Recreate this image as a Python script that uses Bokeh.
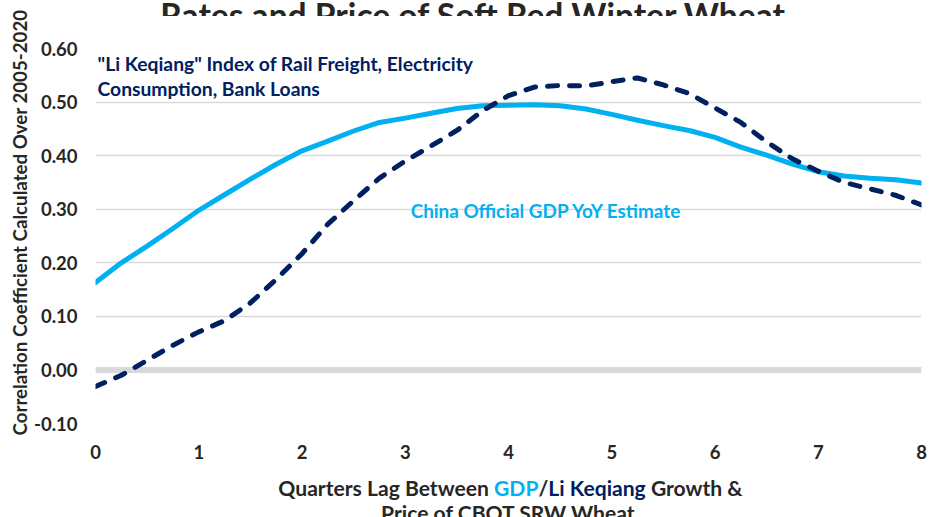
import glob
import os
import subprocess

from bokeh.plotting import figure
from bokeh.layouts import row, column
from bokeh.models import Label, Span, FixedTicker, NumeralTickFormatter, Range1d
from bokeh.embed import file_html
from bokeh.resources import INLINE

# ---------------- data ----------------
lag_quarters = [0, 0.25, 0.5, 0.75, 1, 1.25, 1.5, 1.75, 2, 2.25, 2.5, 2.75, 3,
                3.25, 3.5, 3.75, 4, 4.25, 4.5, 4.75, 5, 5.25, 5.5, 5.75, 6,
                6.25, 6.5, 6.75, 7, 7.25, 7.5, 7.75, 8]
gdp_corr = [0.163, 0.200, 0.231, 0.264, 0.298, 0.327, 0.356, 0.384, 0.409,
            0.427, 0.446, 0.462, 0.470, 0.479, 0.488, 0.493, 0.494, 0.495,
            0.493, 0.487, 0.477, 0.466, 0.456, 0.447, 0.434, 0.416, 0.401,
            0.384, 0.370, 0.362, 0.358, 0.355, 0.349]
likeqiang_corr = [-0.031, -0.010, 0.018, 0.046, 0.071, 0.092, 0.125, 0.169,
                  0.217, 0.272, 0.316, 0.358, 0.390, 0.418, 0.447, 0.484,
                  0.512, 0.528, 0.531, 0.530, 0.538, 0.545, 0.532, 0.516,
                  0.489, 0.462, 0.426, 0.394, 0.371, 0.350, 0.338, 0.326,
                  0.308]
x_ticks = [0, 1, 2, 3, 4, 5, 6, 7, 8]
y_ticks = [-0.1, 0.0, 0.1, 0.2, 0.3, 0.4, 0.5, 0.6]

title_text = "Rates and Price of Soft Red Winter Wheat"
y_label_text = "Correlation Coefficient Calculated Over 2005-2020"
lk_note = ['"Li Keqiang" Index of Rail Freight, Electricity',
           "Consumption, Bank Loans"]
gdp_note = "China Official GDP YoY Estimate"
x_label_line1 = [("Quarters Lag Between ", "#262626"), ("GDP", "#00B0F0"),
                 ("/", "#262626"), ("Li Keqiang", "#002060"),
                 (" Growth &", "#262626")]
x_label_line2 = "Price of CBOT SRW Wheat"

# ---------------- styling / layout ----------------
FONT = "Lato"
DARK = "#262626"
GDP_C = "#00B0F0"
LK_C = "#002060"
GRID = "#D9D9D9"

PAGE_W, PAGE_H = 929, 517
LEFT_W = 31                      # strip holding the rotated y-axis title
RIGHT_W = PAGE_W - LEFT_W
TITLE_H = 16                     # strip holding the (clipped) chart title
MAIN_BOTTOM = 466                # page y where the main figure ends
MAIN_H = MAIN_BOTTOM - TITLE_H
XL_H = PAGE_H - MAIN_BOTTOM      # strip holding the x-axis title

# plot frame in page pixels
FR_L, FR_R, FR_T, FR_B = 95, 921, 48, 423
X0, X1 = 0, 8
Y0, Y1 = -0.1, 0.6


def fx(px):   # page x -> data x (main plot)
    return X0 + (px - FR_L) / (FR_R - FR_L) * (X1 - X0)


def fy(py):   # page y -> data y (main plot)
    return Y1 - (py - FR_T) / (FR_B - FR_T) * (Y1 - Y0)


def _font_path():
    pats = ["Lato-Bold.ttf", "Lato-Bold.otf"]
    roots = ["/usr/share/fonts", "/usr/local/share/fonts",
             os.path.expanduser("~/.fonts"),
             os.path.expanduser("~/.local/share/fonts")]
    for pat in pats:
        for root in roots:
            hits = glob.glob(os.path.join(root, "**", pat), recursive=True)
            if hits:
                return hits[0]
    try:
        out = subprocess.run(["fc-match", "-f", "%{file}", "Lato:bold"],
                             capture_output=True, text=True, timeout=5).stdout.strip()
        if out and "lato" in out.lower():
            return out
    except Exception:
        pass
    return None


FONT_PATH = _font_path()
try:
    from PIL import ImageFont
    _F100 = ImageFont.truetype(FONT_PATH, 100) if FONT_PATH else None
except Exception:
    _F100 = None


def text_w(txt, size):
    if _F100 is not None:
        return _F100.getlength(txt) * size / 100.0
    return 0.42 * size * len(txt)


def fit(txt, target, default):
    if _F100 is not None:
        return round(target * 100.0 / _F100.getlength(txt), 1)
    return default


title_fs = fit(title_text, 625, 34)
ylab_fs = fit(y_label_text, 425, 20)
lk_fs = fit(lk_note[0], 376, 19)
gdp_fs = fit(gdp_note, 270, 20)
xl_fs = fit("".join(s for s, _ in x_label_line1), 464, 21)
tick_fs = 18.5


def make_label(x, y, text, size, color, align="left", baseline="middle",
               angle=0.0):
    return Label(x=x, y=y, text=text, text_font=FONT, text_font_style="bold",
                 text_font_size=f"{size}px", text_color=color,
                 text_align=align, text_baseline=baseline, angle=angle)


def text_strip(w, h, xr):
    """A bare figure; x in page pixels (frame aligned with the main plot), y down."""
    f = figure(width=w, height=h, output_backend="svg", toolbar_location=None,
               x_range=xr, y_range=Range1d(h, 0),
               x_axis_location=None, y_axis_location=None,
               min_border=0, min_border_left=0, min_border_right=0,
               min_border_top=0, min_border_bottom=0)
    f.outline_line_color = None
    f.grid.visible = False
    f.background_fill_color = "white"
    f.border_fill_color = "white"
    return f


# ---------------- main plot ----------------
main = figure(width=RIGHT_W, height=MAIN_H, output_backend="svg",
              toolbar_location=None,
              x_range=Range1d(X0, X1), y_range=Range1d(Y0, Y1),
              min_border_left=FR_L - LEFT_W,
              min_border_right=PAGE_W - FR_R,
              min_border_top=FR_T - TITLE_H,
              min_border_bottom=MAIN_BOTTOM - FR_B,
              background_fill_color="white", border_fill_color="white")
main.outline_line_color = None

main.xgrid.grid_line_color = None
main.ygrid.ticker = FixedTicker(ticks=y_ticks)
main.ygrid.grid_line_color = GRID
main.ygrid.grid_line_width = 1.3

for ax in (main.xaxis[0], main.yaxis[0]):
    ax.axis_line_color = None
    ax.major_tick_line_color = None
    ax.minor_tick_line_color = None
    ax.major_tick_out = 0
    ax.major_tick_in = 0
    ax.axis_label_standoff = 0
    ax.major_label_text_font = FONT
    ax.major_label_text_font_style = "bold"
    ax.major_label_text_font_size = f"{tick_fs}px"
    ax.major_label_text_color = DARK
main.xaxis.ticker = FixedTicker(ticks=x_ticks)
main.yaxis.ticker = FixedTicker(ticks=y_ticks)
main.yaxis.formatter = NumeralTickFormatter(format="0.00")
main.xaxis.major_label_standoff = 21
main.yaxis.major_label_standoff = 18

main.add_layout(Span(location=0, dimension="width", line_color=GRID,
                     line_width=6, level="underlay"))

main.line(lag_quarters, gdp_corr, line_color=GDP_C, line_width=5,
          line_join="round", line_cap="round")
main.line(lag_quarters, likeqiang_corr, line_color=LK_C, line_width=5,
          line_dash="10 12", line_cap="round", line_join="round")

main.add_layout(make_label(fx(97), fy(63), lk_note[0], lk_fs, LK_C))
main.add_layout(make_label(fx(97), fy(88), lk_note[1], lk_fs, LK_C))
main.add_layout(make_label(fx(546), fy(210), gdp_note, gdp_fs, GDP_C, "center"))

# ---------------- title strip (text clipped at the top, as in the reference) ----------------
# frames of the column's children line up with the main plot frame,
# so the strip's x range is given in page pixels of that frame
title_fig = text_strip(RIGHT_W, TITLE_H, Range1d(FR_L, FR_R))
title_fig.add_layout(make_label(473, 14, title_text, title_fs, DARK,
                                "center", "alphabetic"))

# ---------------- x-axis title strip ----------------
xl_fig = text_strip(RIGHT_W, XL_H, Range1d(FR_L, FR_R))
total = sum(text_w(s, xl_fs) for s, _ in x_label_line1)
xpos = 510 - total / 2.0
for seg, col in x_label_line1:
    lead = seg[:len(seg) - len(seg.lstrip(" "))]
    xl_fig.add_layout(make_label(xpos + text_w(lead, xl_fs), 487 - MAIN_BOTTOM,
                                 seg.strip(" "), xl_fs, col, "left",
                                 "alphabetic"))
    xpos += text_w(seg, xl_fs)
xl_fig.add_layout(make_label(508, 512 - MAIN_BOTTOM, x_label_line2, xl_fs,
                             DARK, "center", "alphabetic"))

# ---------------- y-axis title strip ----------------
yl_fig = text_strip(LEFT_W, PAGE_H, Range1d(0, LEFT_W))
yl_fig.add_layout(make_label(19.4, 222, y_label_text, ylab_fs, DARK,
                             "center", "middle", angle=1.5707963267948966))

layout = row(yl_fig, column(title_fig, main, xl_fig, spacing=0), spacing=0)

open("out.html", "w").write(file_html(layout, INLINE))
